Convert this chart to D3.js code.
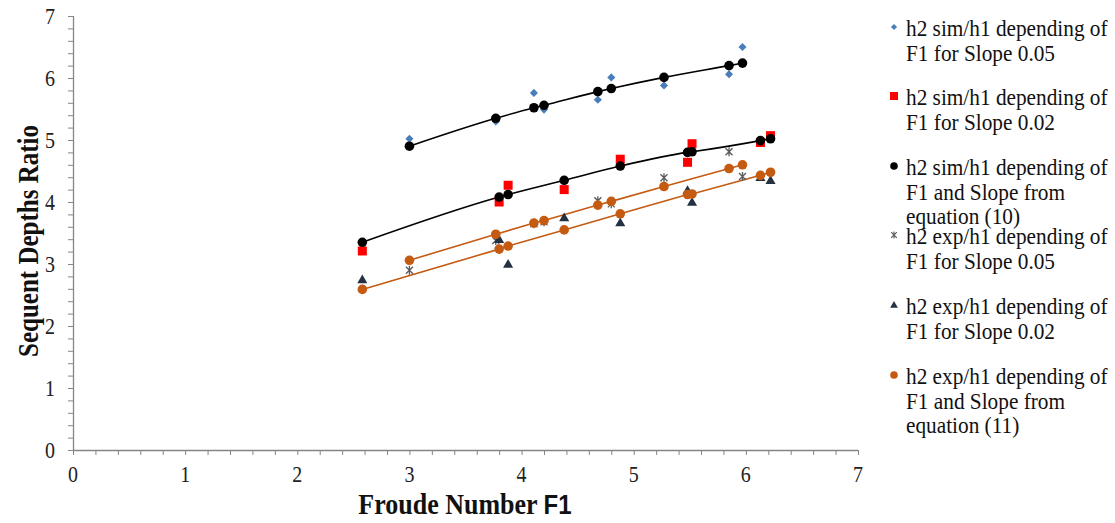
<!DOCTYPE html>
<html><head><meta charset="utf-8">
<script src="https://cdn.jsdelivr.net/npm/d3@7"></script>
<style>body{margin:0;background:#fff;}svg{display:block;}</style>
</head><body>
<svg id="c" width="1115" height="523"></svg>
<script>
// Froude numbers for the two slopes
const F1_slope005 = [3.00, 3.77, 4.11, 4.20, 4.68, 4.80, 5.27, 5.85, 5.97];
const F1_slope002 = [2.58, 3.80, 3.88, 4.38, 4.88, 5.48, 5.52, 6.13, 6.22];

const simSlope005 = [5.02, 5.30, 5.76, 5.49, 5.65, 6.01, 5.88, 6.06, 6.50];
const simSlope002 = [3.21, 4.00, 4.27, 4.20, 4.69, 4.64, 4.94, 4.96, 5.07];
const simEq10_005 = [4.90, 5.35, 5.52, 5.56, 5.78, 5.83, 6.01, 6.20, 6.24];
const simEq10_002 = [3.35, 4.08, 4.12, 4.35, 4.58, 4.80, 4.81, 4.99, 5.02];
const expSlope005 = [2.90, 3.38, 3.65, 3.68, 4.02, 3.97, 4.39, 4.81, 4.41];
const expSlope002 = [2.75, 3.40, 3.00, 3.75, 3.67, 4.19, 4.00, 4.40, 4.35];
const expEq11_005 = [3.06, 3.48, 3.66, 3.70, 3.95, 4.01, 4.25, 4.54, 4.60];
const expEq11_002 = [2.59, 3.24, 3.29, 3.55, 3.81, 4.12, 4.13, 4.43, 4.48];

const xTicks = [0,1,2,3,4,5,6,7];
const yTicks = [0,1,2,3,4,5,6,7];

const legendLabels = [
  ["h2 sim/h1 depending of","F1 for Slope 0.05"],
  ["h2 sim/h1 depending of","F1 for Slope 0.02"],
  ["h2 sim/h1 depending of","F1 and Slope from","equation (10)"],
  ["h2 exp/h1 depending of","F1 for Slope 0.05"],
  ["h2 exp/h1 depending of","F1 for Slope 0.02"],
  ["h2 exp/h1 depending of","F1 and Slope from","equation (11)"]
];

const svg = d3.select("#c");
const x = d3.scaleLinear().domain([0,7]).range([73,858]);
const y = d3.scaleLinear().domain([0,7]).range([450,16]);
const axisColor = "#868686";
const serif = "'Liberation Serif','Times New Roman',serif";

// axes
const gx = svg.append("g").attr("transform","translate(0,450)");
gx.call(d3.axisBottom(x).tickValues(d3.range(0,7.001,0.2)).tickSize(5).tickFormat(""));
const gy = svg.append("g").attr("transform","translate(73,0)");
gy.call(d3.axisLeft(y).tickValues(d3.range(0,7.001,0.2)).tickSize(5).tickFormat(""));
svg.selectAll(".domain").attr("stroke",axisColor).attr("stroke-width",1.3);
svg.selectAll(".tick line").attr("stroke",axisColor).attr("stroke-width",1);
gx.select(".domain").attr("d",`M${x(0)},0.5H${x(7)}`);
gy.select(".domain").attr("d",`M0.5,${y(0)}V${y(7)}`);

// stretched text helper (reference glyphs are taller than wide)
function stxt(g,tx,ty,rot,sy){
  return g.append("text").attr("transform",`translate(${tx},${ty}) rotate(${rot}) scale(1,${sy})`);
}

const tg = svg.append("g");
xTicks.forEach(d=>{
  stxt(tg,x(d),482,0,1.12).attr("text-anchor","middle")
   .attr("font-family",serif).attr("font-size",20).attr("fill","#222").text(d);
});
yTicks.forEach(d=>{
  stxt(tg,55,y(d)+7.5,0,1.12).attr("text-anchor","end")
   .attr("font-family",serif).attr("font-size",20).attr("fill","#222").text(d);
});

// titles
stxt(svg,38,241,-90,1.2).attr("text-anchor","middle")
  .attr("font-family",serif).attr("font-size",25).attr("font-weight","bold").attr("fill","#111").text("Sequent Depths Ratio");
const xt = stxt(svg,465,514,0,1.15).attr("text-anchor","middle")
  .attr("font-family",serif).attr("font-size",26).attr("font-weight","bold").attr("fill","#111");
xt.append("tspan").text("Froude Number ");
xt.append("tspan").attr("font-family","'Liberation Sans',Arial,sans-serif").attr("font-size",24).text("F1");

const zip = (xs,ys)=>xs.map((v,i)=>[v,ys[i]]);
const smooth = d3.line().x(d=>x(d[0])).y(d=>y(d[1])).curve(d3.curveMonotoneX);
const straight = d3.line().x(d=>x(d[0])).y(d=>y(d[1]));

const blue="#4A7EBB", red="#FF0000", black="#000", gray="#595959", navy="#243142", orange="#C55A11";

function diamond(g,pts){ g.selectAll(null).data(pts).join("path")
  .attr("d",d3.symbol(d3.symbolDiamond2,42)).attr("transform",d=>`translate(${x(d[0])},${y(d[1])})`)
  .attr("fill",blue);}
function square(g,pts){ g.selectAll(null).data(pts).join("rect")
  .attr("x",d=>x(d[0])-4.5).attr("y",d=>y(d[1])-4.5).attr("width",9).attr("height",9).attr("fill",red);}
function circle(g,pts,c){ g.selectAll(null).data(pts).join("circle")
  .attr("cx",d=>x(d[0])).attr("cy",d=>y(d[1])).attr("r",4.8).attr("fill",c);}
function star(g,pts){ g.selectAll(null).data(pts).join("path")
  .attr("d","M-3.5,-3.5L3.5,3.5M3.5,-3.5L-3.5,3.5M0,-4.5V4.5")
  .attr("transform",d=>`translate(${x(d[0])},${y(d[1])})`).attr("stroke",gray).attr("stroke-width",1.3).attr("fill","none");}
function tri(g,pts){ g.selectAll(null).data(pts).join("path")
  .attr("d",d3.symbol(d3.symbolTriangle,44)).attr("transform",d=>`translate(${x(d[0])},${y(d[1])+0.8})`)
  .attr("fill",navy);}

const plot = svg.append("g");
[[zip(F1_slope005,simEq10_005),black,smooth],[zip(F1_slope002,simEq10_002),black,smooth],
 [zip(F1_slope005,expEq11_005),orange,straight],[zip(F1_slope002,expEq11_002),orange,straight]].forEach(([pts,c,gen])=>{
  plot.append("path").attr("d",gen(pts)).attr("fill","none").attr("stroke",c).attr("stroke-width",1.6);
});
diamond(plot.append("g"),zip(F1_slope005,simSlope005));
square(plot.append("g"),zip(F1_slope002,simSlope002));
star(plot.append("g"),zip(F1_slope005,expSlope005));
tri(plot.append("g"),zip(F1_slope002,expSlope002));
circle(plot.append("g"),zip(F1_slope005,simEq10_005).concat(zip(F1_slope002,simEq10_002)),black);
circle(plot.append("g"),zip(F1_slope005,expEq11_005).concat(zip(F1_slope002,expEq11_002)),orange);

// legend
const legY = [27,96,166,235,305,375];
const lg = svg.append("g");
legendLabels.forEach((lines,i)=>{
  const g = lg.append("g");
  const my = legY[i];
  const mx = 894;
  if(i===0) g.append("path").attr("d",d3.symbol(d3.symbolDiamond2,24)).attr("transform",`translate(${mx},${my})`).attr("fill",blue);
  if(i===1) g.append("rect").attr("x",mx-4).attr("y",my-4).attr("width",8).attr("height",8).attr("fill",red);
  if(i===2) g.append("circle").attr("cx",mx).attr("cy",my).attr("r",3.8).attr("fill",black);
  if(i===3) g.append("path").attr("d","M-2.8,-2.8L2.8,2.8M2.8,-2.8L-2.8,2.8M0,-3.5V3.5").attr("transform",`translate(${mx},${my})`).attr("stroke",gray).attr("stroke-width",1.1);
  if(i===4) g.append("path").attr("d",d3.symbol(d3.symbolTriangle,26)).attr("transform",`translate(${mx},${my+0.5})`).attr("fill",navy);
  if(i===5) g.append("circle").attr("cx",mx).attr("cy",my).attr("r",3.8).attr("fill",orange);
  lines.forEach((t,j)=>{
    stxt(g,906,my+9+j*24.6,0,1.1).attr("font-family",serif).attr("font-size",21.3).attr("fill","#111").text(t);
  });
});
</script>
</body></html>
